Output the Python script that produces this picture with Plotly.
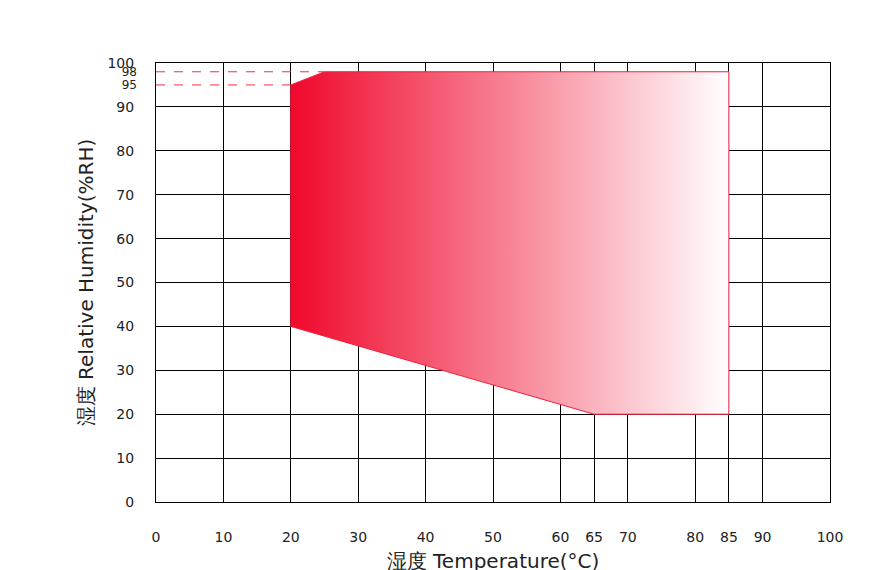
import plotly.graph_objects as go

region_t = [20, 20, 25, 85, 85, 65, 20]
region_h = [40, 95, 98, 98, 20, 20, 40]
x_ticks = [0, 10, 20, 30, 40, 50, 60, 65, 70, 80, 85, 90, 100]
y_ticks = [0, 10, 20, 30, 40, 50, 60, 70, 80, 90, 100]
y_extra = [95, 98]
dash_x = [[0, 20], [0, 25]]

fig = go.Figure()
fig.add_trace(go.Scatter(x=region_t, y=region_h, fill="toself", mode="lines",
    line=dict(color="#f0203c", width=1),
    fillgradient=dict(type="horizontal", colorscale=[[0, "#f0082c"], [1, "#ffffff"]]),
    showlegend=False, hoverinfo="skip"))
for xs, yv in zip(dash_x, y_extra):
    fig.add_trace(go.Scatter(x=xs, y=[yv, yv], mode="lines",
        line=dict(color="#f03040", width=1, dash="dash"), showlegend=False))
fig.add_trace(go.Scatter(x=[None], y=[None], yaxis="y2", showlegend=False))

font = dict(family="DejaVu Sans", size=14, color="#222")
fig.update_layout(
    width=885, height=570, plot_bgcolor="white", paper_bgcolor="white",
    margin=dict(l=148, r=63, t=55, b=76), font=font,
    xaxis=dict(range=[0, 100], tickvals=x_ticks, showgrid=True, gridcolor="black",
               gridwidth=1, showline=True, linecolor="black", mirror=True, zeroline=False,
               ticks="", ticklabelstandoff=22, automargin=False,
               title=dict(text="湿度 Temperature(°C)", font=dict(size=20), standoff=10)),
    yaxis=dict(range=[0, 100], tickvals=y_ticks, showgrid=True, gridcolor="black",
               gridwidth=1, showline=True, linecolor="black", mirror=True, zeroline=False,
               ticks="", ticklabelstandoff=18, automargin=False,
               title=dict(text="湿度 Relative Humidity(%RH)", font=dict(size=20), standoff=8)),
    yaxis2=dict(range=[0, 100], tickvals=y_extra, overlaying="y", side="left",
                showgrid=False, ticks="", ticklabelstandoff=18, showline=False,
                zeroline=False, automargin=False, tickfont=dict(size=12)),
)
fig.write_html("out.html")
